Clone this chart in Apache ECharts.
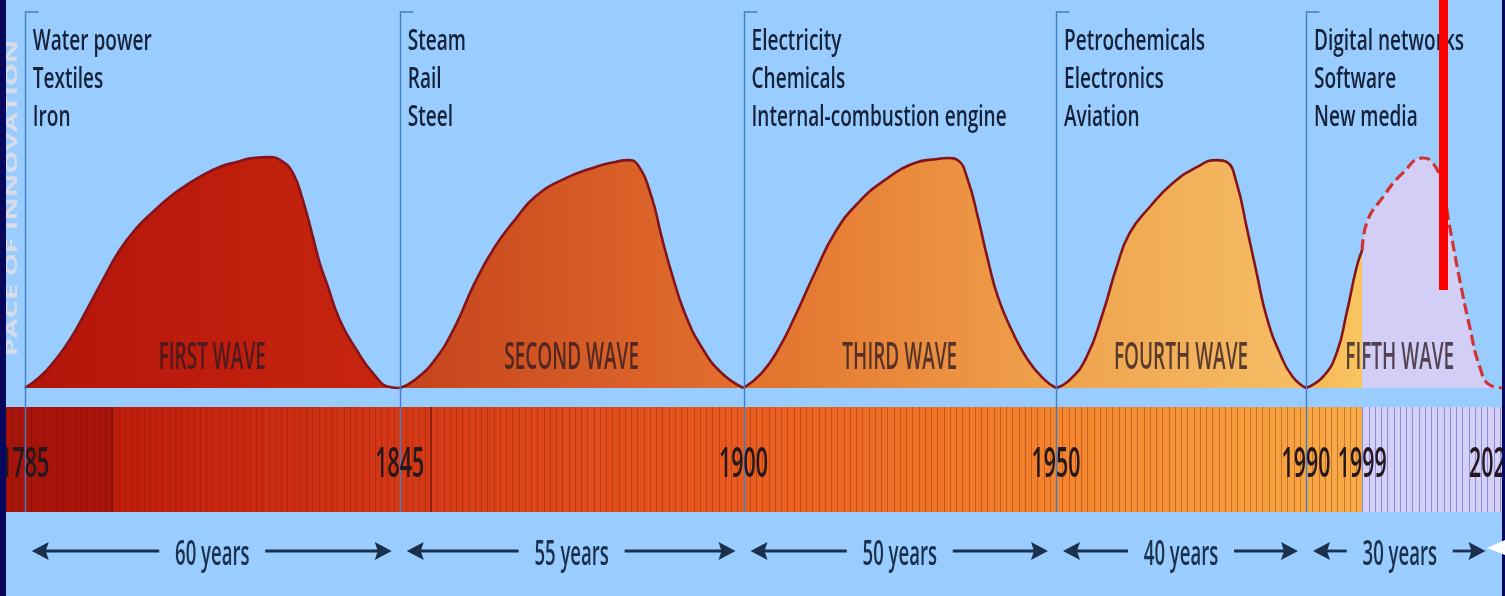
<!DOCTYPE html>
<html>
<head>
<meta charset="utf-8">
<title>Waves of innovation</title>
<script src="https://cdn.jsdelivr.net/npm/echarts@6/dist/echarts.min.js"></script>
<style>
  html, body { margin: 0; padding: 0; background: #99ccff; }
  #chart { width: 1505px; height: 596px; }
</style>
</head>
<body>
<div id="chart"></div>
<script>
// ---- data -------------------------------------------------------------
const waveStarts = [1785, 1845, 1900, 1950, 1990];
const waveEnds   = [1845, 1900, 1950, 1990, 2020];
const waveNames  = ['FIRST WAVE', 'SECOND WAVE', 'THIRD WAVE', 'FOURTH WAVE', 'FIFTH WAVE'];
const technologies = [
  ['Water power', 'Textiles', 'Iron'],
  ['Steam', 'Rail', 'Steel'],
  ['Electricity', 'Chemicals', 'Internal-combustion engine'],
  ['Petrochemicals', 'Electronics', 'Aviation'],
  ['Digital networks', 'Software', 'New media']
];
const durations  = ['60 years', '55 years', '50 years', '40 years', '30 years'];
const yearTicks  = [1785, 1845, 1900, 1950, 1990, 1999, 2020];
const bandSegments = [[1782, 1799], [1799, 1999], [1999, 2022]];
const bandDividers = [1799, 1850];

// pace of innovation (0 = trough, 100 = peak) by year
const wave1 = [[1785,0],[1787.4,4.8],[1789.5,10.9],[1792.2,20.9],[1794.9,33.9],[1797.5,47],[1800.2,60],[1802.9,69.6],[1805.5,76.5],[1808.2,83],[1810.9,88.3],[1813.5,92.6],[1816.2,96.1],[1818.9,98.3],[1821.5,100],[1824.2,100.4],[1826.3,98.3],[1827.9,93.5],[1829.5,81.7],[1831.1,65.7],[1832.2,54.3],[1833.3,45.7],[1835.4,29.6],[1838.1,16.5],[1840.7,6.5],[1843.4,0.4],[1845,0]];
const wave2 = [[1845,0],[1847.4,3.5],[1850.6,12.2],[1853.8,26.5],[1857,45.7],[1860.2,61.3],[1863.4,73],[1866.6,83],[1870.9,90.4],[1876.2,96],[1879.5,98.3],[1881.5,99.1],[1883.1,97],[1885.3,83],[1886.9,65.7],[1888.5,50],[1890.6,32.6],[1893.3,17.8],[1896.5,6.5],[1900,0]];
const wave3 = [[1900,0],[1902.9,6.5],[1905.5,16.5],[1908.2,30.9],[1911.4,50],[1914.6,67.4],[1918.3,80.4],[1922.6,90.4],[1927.4,97.8],[1931,99.6],[1932.7,100],[1934.3,99],[1935.9,90.4],[1937.5,74.3],[1939.1,55.7],[1940.7,39.6],[1942.9,25.2],[1945.5,12.2],[1948.2,3.5],[1950,0]];
const wave4 = [[1950,0],[1952.2,3.5],[1954.9,13.5],[1957.5,32.6],[1959.7,52.6],[1961.8,67.4],[1965,78.7],[1968.7,89.1],[1972.5,96],[1975.7,99.1],[1977.3,98.3],[1978.9,89.1],[1980.5,70],[1982.1,50],[1983.7,30.9],[1985.8,15.2],[1987.9,4.8],[1990,0]];
const wave5 = [[1990,0],[1992.7,4.8],[1994.9,15.2],[1996.5,32.6],[1998.1,52.6],[1999,60]];
const wave5Forecast = [[1999,60],[1999.7,71.7],[2002.3,83],[2005.5,93.5],[2008.7,100],[2010.3,97.8],[2011.7,89.1],[2013,70],[2014.6,47],[2016.2,26.5],[2017.8,9.1],[2019.4,1.3],[2021.5,0]];
const todayMarker = [[2012, 42.6], [2012, 168.7]];

// ---- styling ------------------------------------------------------------
const FONT = "'Open Sans', 'Liberation Sans', sans-serif";
const Y_MAX = 168.7;
const LABEL_LEVEL = 150.4;   // value level of the first technology line
const NAME_LEVEL = 13;       // value level of the wave names
const BOUNDARY_TOP = 163.5;  // value level where the era rules start
const SMOOTH = 0.5;

const hgrad = (stops) => new echarts.graphic.LinearGradient(0, 0, 1, 0,
  stops.map((c, i) => Array.isArray(c) ? { offset: c[0], color: c[1] } : { offset: i / (stops.length - 1), color: c }));

const waveFills = [
  hgrad(['#b3140a', '#c8260f']),
  hgrad(['#c4421c', '#e4702e']),
  hgrad(['#e2702c', '#f0a24c']),
  hgrad(['#efa24e', '#f5be64']),
  hgrad(['#f6b656', '#f8c660'])
];
const bandFills = [
  '#a8140a',
  hgrad([[0, '#bf1c0c'], [0.23, '#d43816'], [0.505, '#e95c1f'], [0.755, '#f4842d'], [0.955, '#f7a442'], [1, '#f8ac48']]),
  '#d4d0f6'
];
const stripeColors = ['rgba(110,15,5,0.40)', 'rgba(120,30,5,0.35)', 'rgba(80,80,200,0.55)'];

function text(x, y, str, size, sx, fill, align, weight) {
  return {
    type: 'text', x: x, y: y, scaleX: sx, scaleY: 1,
    style: { text: str, fontFamily: FONT, fontSize: size, fontWeight: weight || 600, fill: fill,
             align: align || 'center', verticalAlign: 'middle' }
  };
}

const waveSeries = [wave1, wave2, wave3, wave4, wave5].map((data, i) => ({
  type: 'line', xAxisIndex: 0, yAxisIndex: 0, data: data,
  smooth: SMOOTH, symbol: 'none', z: 3,
  lineStyle: { color: '#84141a', width: 2.6 },
  areaStyle: { color: waveFills[i], opacity: 1 }
}));

const option = {
  animation: false,
  backgroundColor: '#99ccff',
  grid: [
    { left: 6, top: 0, width: 1500, height: 388, outerBoundsMode: 'none' },
    { left: 6, top: 407, width: 1500, height: 105, outerBoundsMode: 'none' },
    { left: 6, top: 530, width: 1500, height: 42, outerBoundsMode: 'none' }
  ],
  xAxis: [0, 1, 2].map(g => ({ type: 'value', gridIndex: g, min: 1782, max: 2022, show: false })),
  yAxis: [
    { type: 'value', gridIndex: 0, min: 0, max: Y_MAX, show: false },
    { type: 'value', gridIndex: 1, min: 0, max: 1, show: false },
    { type: 'value', gridIndex: 2, min: 0, max: 1, show: false }
  ],
  series: [
    // timeline band with one stripe per year
    {
      type: 'custom', xAxisIndex: 1, yAxisIndex: 1, z: 1, clip: false, silent: true,
      data: bandSegments,
      renderItem: function (params, api) {
        const s = api.value(0), e = api.value(1), k = params.dataIndex;
        const p0 = api.coord([s, 1]), p1 = api.coord([e, 0]);
        const children = [{
          type: 'rect',
          shape: { x: p0[0], y: p0[1], width: p1[0] - p0[0], height: p1[1] - p0[1] },
          style: { fill: bandFills[k] }
        }];
        for (let yr = Math.ceil(s); yr < e; yr++) {
          const x = Math.round(api.coord([yr, 0])[0]) + 0.5;
          children.push({ type: 'line', shape: { x1: x, y1: p0[1], x2: x, y2: p1[1] },
            style: { stroke: stripeColors[k], lineWidth: 1 } });
        }
        return { type: 'group', children: children };
      }
    },
    {
      type: 'custom', xAxisIndex: 1, yAxisIndex: 1, z: 2, clip: false, silent: true,
      data: bandDividers.map(y => [y]),
      renderItem: function (params, api) {
        const a = api.coord([api.value(0), 1]), b = api.coord([api.value(0), 0]);
        return { type: 'line', shape: { x1: a[0], y1: a[1], x2: b[0], y2: b[1] },
          style: { stroke: 'rgba(95,20,10,0.75)', lineWidth: 1.5 } };
      }
    },
    ...waveSeries,
    {
      type: 'line', xAxisIndex: 0, yAxisIndex: 0, data: wave5Forecast,
      smooth: SMOOTH, symbol: 'none', z: 3,
      lineStyle: { color: '#cf3535', width: 3.2, type: [11, 5] },
      areaStyle: { color: '#d2cef6', opacity: 1 }
    },
    // era rules with a small tick at the top
    {
      type: 'custom', xAxisIndex: 0, yAxisIndex: 0, z: 4, clip: false, silent: true,
      data: waveStarts.map(y => [y]),
      renderItem: function (params, api) {
        const top = api.coord([api.value(0), BOUNDARY_TOP]);
        const base = api.coord([api.value(0), 0]);
        const x = Math.round(top[0]) + 0.5;
        return { type: 'polyline',
          shape: { points: [[x + 13, top[1]], [x, top[1]], [x, base[1] + 124]] },
          style: { stroke: '#3f7fc4', lineWidth: 1.4, fill: null } };
      }
    },
    // technology lists
    {
      type: 'custom', xAxisIndex: 0, yAxisIndex: 0, z: 5, clip: false, silent: true,
      data: waveStarts.map(y => [y]),
      renderItem: function (params, api) {
        const p = api.coord([api.value(0), LABEL_LEVEL]);
        const lines = technologies[params.dataIndex];
        return { type: 'group', children: lines.map((t, i) =>
          text(p[0] + 8, p[1] + i * 38, t, 28, 0.68, '#16223a', 'left')) };
      }
    },
    // wave names
    {
      type: 'custom', xAxisIndex: 0, yAxisIndex: 0, z: 5, clip: false, silent: true,
      data: waveStarts.map((s, i) => [(s + waveEnds[i]) / 2, NAME_LEVEL]),
      renderItem: function (params, api) {
        const p = api.coord([api.value(0), api.value(1)]);
        return text(p[0], p[1], waveNames[params.dataIndex], 38, 0.5, 'rgba(45,25,35,0.78)');
      }
    },
    // year labels on the band
    {
      type: 'custom', xAxisIndex: 1, yAxisIndex: 1, z: 5, clip: false, silent: true,
      data: yearTicks.map(y => [y, 0.448]),
      renderItem: function (params, api) {
        const p = api.coord([api.value(0), api.value(1)]);
        return text(p[0], p[1], String(yearTicks[params.dataIndex]), 42, 0.51, '#24181e');
      }
    },
    // wave lengths with arrows
    {
      type: 'custom', xAxisIndex: 2, yAxisIndex: 2, z: 5, clip: false, silent: true,
      data: waveStarts.map((s, i) => [s, waveEnds[i]]),
      renderItem: function (params, api) {
        const a = api.coord([api.value(0), 0.5]), b = api.coord([api.value(1), 0.5]);
        const y = a[1], lt = a[0] + 7, rt = b[0] - 8, mid = (a[0] + b[0]) / 2, half = 53;
        const col = '#1b304c';
        return { type: 'group', children: [
          { type: 'line', shape: { x1: lt + 12, y1: y, x2: mid - half, y2: y }, style: { stroke: col, lineWidth: 2.8 } },
          { type: 'line', shape: { x1: mid + half, y1: y, x2: rt - 12, y2: y }, style: { stroke: col, lineWidth: 2.8 } },
          { type: 'polygon', shape: { points: [[lt, y], [lt + 17, y - 9], [lt + 14, y], [lt + 17, y + 9]] }, style: { fill: col } },
          { type: 'polygon', shape: { points: [[rt, y], [rt - 17, y - 9], [rt - 14, y], [rt - 17, y + 9]] }, style: { fill: col } },
          text(mid, y + 4, durations[params.dataIndex], 35, 0.53, col)
        ] };
      }
    },
    // present-day marker
    {
      type: 'line', xAxisIndex: 0, yAxisIndex: 0, data: todayMarker, z: 10,
      symbol: 'none', lineStyle: { color: '#ff0000', width: 9, cap: 'butt' }, silent: true
    }
  ],
  graphic: [
    { type: 'text', x: 12.5, y: 198, rotation: Math.PI / 2, scaleX: 1.8, scaleY: 1, z: 50,
      style: { text: 'PACE OF INNOVATION', fontFamily: FONT, fontSize: 16, fontWeight: 700,
               fill: '#d9dce6', align: 'center', verticalAlign: 'middle' } },
    { type: 'rect', shape: { x: 0, y: 0, width: 6, height: 596 }, style: { fill: '#07075c' }, z: 100 },
    { type: 'rect', shape: { x: 1502, y: 0, width: 3, height: 596 }, style: { fill: '#07075c' }, z: 100 },
    { type: 'polygon', shape: { points: [[1487, 548], [1505, 540], [1505, 555]] }, style: { fill: '#ffffff' }, z: 100 }
  ]
};

const chart = echarts.init(document.getElementById('chart'), null, { renderer: 'canvas', width: 1505, height: 596 });
chart.setOption(option);
</script>
</body>
</html>
